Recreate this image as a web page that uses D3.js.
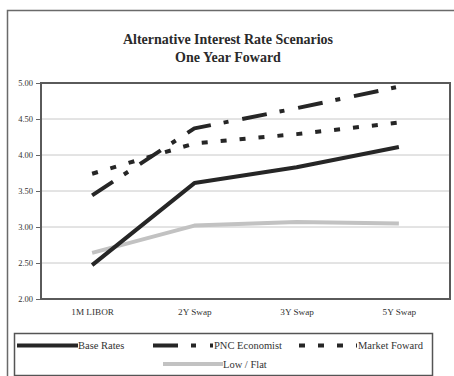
<!DOCTYPE html>
<html>
<head>
<meta charset="utf-8">
<script src="https://cdn.jsdelivr.net/npm/d3@7"></script>
<style>
  html, body { margin: 0; padding: 0; background: #fff; }
  svg { display: block; font-family: "Liberation Serif", "Times New Roman", serif; }
</style>
</head>
<body>
<svg id="chart" width="454" height="376"></svg>
<script>
// Rate scenarios by tenor
const categories = ["1M LIBOR", "2Y Swap", "3Y Swap", "5Y Swap"];
const baseRates = [2.47, 3.61, 3.83, 4.11];
const pncEconomist = [3.44, 4.37, 4.65, 4.95];
const marketForward = [3.74, 4.16, 4.29, 4.45];
const lowFlat = [2.64, 3.02, 3.07, 3.05];
const yTicks = [2.00, 2.50, 3.00, 3.50, 4.00, 4.50, 5.00];
const titleLines = ["Alternative Interest Rate Scenarios", "One Year Foward"];

const series = [
  { name: "Base Rates", values: baseRates, color: "#262626", dash: null },
  { name: "PNC Economist", values: pncEconomist, color: "#262626", dash: "25,13,5,14" },
  { name: "Market Foward", values: marketForward, color: "#262626", dash: "6,13" },
  { name: "Low / Flat", values: lowFlat, color: "#c2c2c2", dash: null }
];

const svg = d3.select("#chart");
const plot = { left: 41, top: 83, right: 450, bottom: 299 };

// Outer frame
svg.append("rect")
  .attr("x", 7.5).attr("y", 10.5)
  .attr("width", 460).attr("height", 380)
  .attr("fill", "none").attr("stroke", "#6a6a6a").attr("stroke-width", 1.5);

// Title
svg.append("g").selectAll("text").data(titleLines).join("text")
  .attr("x", 228).attr("y", (d, i) => 44 + i * 18)
  .attr("text-anchor", "middle")
  .attr("font-size", 14).attr("font-weight", "bold").attr("fill", "#2a2a2a")
  .text(d => d);

const x = d3.scalePoint().domain(categories).range([plot.left, plot.right]).padding(0.5);
const y = d3.scaleLinear().domain([2, 5]).range([plot.bottom, plot.top]);

// Gridlines
svg.append("g").selectAll("line").data(yTicks.slice(1, -1)).join("line")
  .attr("x1", plot.left).attr("x2", plot.right)
  .attr("y1", d => y(d)).attr("y2", d => y(d))
  .attr("stroke", "#c8c8c8").attr("stroke-width", 1);

// Y axis
const yAxis = svg.append("g")
  .attr("transform", `translate(${plot.left},0)`)
  .call(d3.axisLeft(y).tickValues(yTicks).tickFormat(d3.format(".2f")).tickSize(5).tickPadding(3));
yAxis.select(".domain").remove();
yAxis.selectAll(".tick line").attr("stroke", "#666");
yAxis.selectAll(".tick text")
  .attr("font-family", "Liberation Serif, serif").attr("font-size", 8.5).attr("fill", "#333");

// X axis labels
const xAxis = svg.append("g")
  .attr("transform", `translate(0,${plot.bottom})`)
  .call(d3.axisBottom(x).tickSize(0).tickPadding(9));
xAxis.select(".domain").remove();
xAxis.selectAll(".tick text")
  .attr("font-family", "Liberation Serif, serif").attr("font-size", 9.2).attr("fill", "#333");

// Plot frame
svg.append("rect")
  .attr("x", plot.left).attr("y", plot.top)
  .attr("width", plot.right - plot.left).attr("height", plot.bottom - plot.top)
  .attr("fill", "none").attr("stroke", "#5a5a5a").attr("stroke-width", 2);

// Lines (light series drawn first so dark ones sit on top)
const line = d3.line().x((d, i) => x(categories[i])).y(d => y(d));
const order = [3, 2, 1, 0];
svg.append("g").selectAll("path").data(order.map(i => series[i])).join("path")
  .attr("d", d => line(d.values))
  .attr("fill", "none")
  .attr("stroke", d => d.color)
  .attr("stroke-width", 4)
  .attr("stroke-dasharray", d => d.dash)
  .attr("stroke-linejoin", "round");

// Legend
const legend = svg.append("g");
legend.append("rect")
  .attr("x", 14.5).attr("y", 333.5).attr("width", 418).attr("height", 42)
  .attr("fill", "#fff").attr("stroke", "#555").attr("stroke-width", 1.5);

const legendItems = [
  { s: series[0], x1: 17, x2: 78, y: 345.5, tx: 78 },
  { s: series[1], x1: 153, x2: 213, y: 345.5, tx: 214 },
  { s: series[2], x1: 299, x2: 357, y: 345.5, tx: 358 },
  { s: series[3], x1: 163, x2: 223, y: 364, tx: 223 }
];
legend.selectAll("line").data(legendItems).join("line")
  .attr("x1", d => d.x1).attr("x2", d => d.x2)
  .attr("y1", d => d.y).attr("y2", d => d.y)
  .attr("stroke", d => d.s.color).attr("stroke-width", 4)
  .attr("stroke-dasharray", d => d.s.dash);
legend.selectAll("text").data(legendItems).join("text")
  .attr("x", d => d.tx).attr("y", d => d.y + 3.5)
  .attr("font-size", 10.5).attr("fill", "#333")
  .text(d => d.s.name);
</script>
</body>
</html>
